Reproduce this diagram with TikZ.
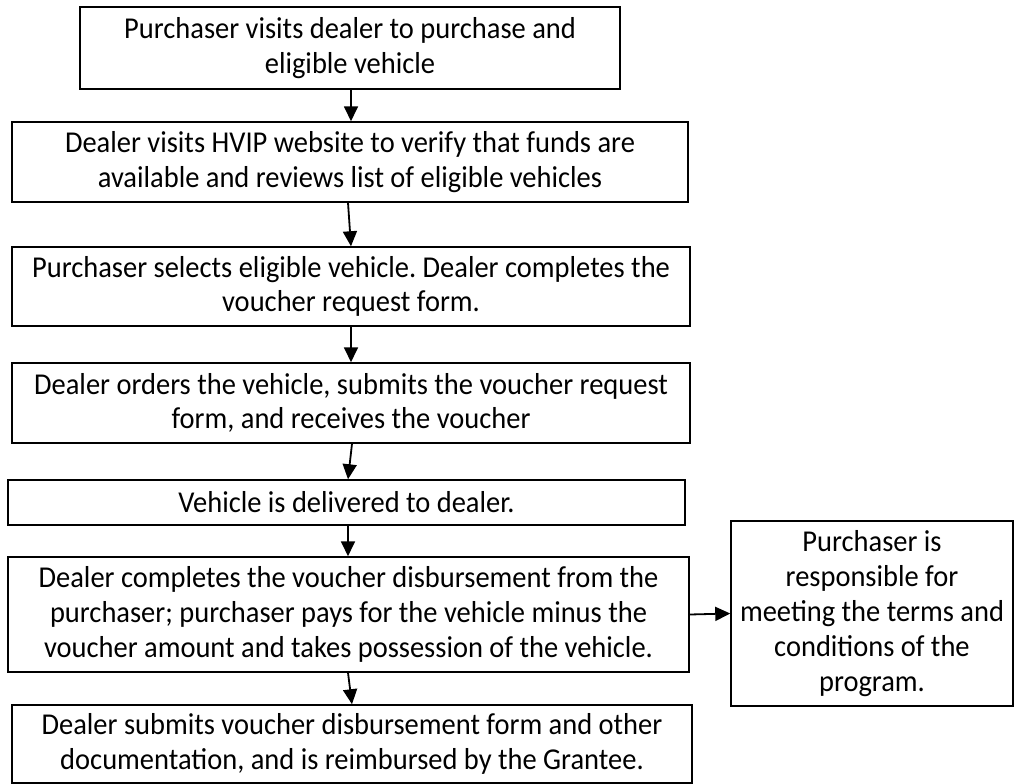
\documentclass[tikz,border=0pt]{standalone}
\usepackage{fontspec}
\setmainfont{Carlito}[FakeStretch=0.94]
\usetikzlibrary{arrows.meta}
\frenchspacing
\begin{document}
\begin{tikzpicture}[x=1pt,y=-1pt,
  box/.style={draw=black, line width=1.5pt, rectangle, align=center, inner sep=0pt,
    font=\fontsize{30.3}{34.8}\selectfont},
  arr/.style={line width=1.8pt, -{Triangle[length=15pt,width=14pt]}}]
\useasboundingbox (0,0) rectangle (1015,784);
\node[box, minimum width=540pt, minimum height=82pt] (b1) at (350,48)
  {Purchaser visits dealer to purchase and\\eligible vehicle};
\node[box, minimum width=676pt, minimum height=80pt] (b2) at (350,162)
  {Dealer visits HVIP website to verify that funds are\\available and reviews list of eligible vehicles};
\node[box, minimum width=678pt, minimum height=79pt] (b3) at (351,286.5)
  {Purchaser selects eligible vehicle. Dealer completes the\\voucher request form.};
\node[box, minimum width=678pt, minimum height=80pt] (b4) at (351,403)
  {Dealer orders the vehicle, submits the voucher request\\form, and receives the voucher};
\node[box, minimum width=677pt, minimum height=45pt] (b5) at (346.5,502.5)
  {Vehicle is delivered to dealer.};
\node[box, minimum width=681pt, minimum height=115pt] (b6) at (348.5,614.5)
  {Dealer completes the voucher disbursement from the\\purchaser; purchaser pays for the vehicle minus the\\voucher amount and takes possession of the vehicle.};
\node[box, minimum width=680pt, minimum height=78pt] (b7) at (352,744)
  {Dealer submits voucher disbursement form and other\\documentation, and is reimbursed by the Grantee.};
\node[box, minimum width=282pt, minimum height=185pt] (r) at (872,613.5)
  {Purchaser is\\responsible for\\meeting the terms and\\conditions of the\\program.};
\draw[arr] ([xshift=1pt]b1.south) -- ([xshift=1pt]b2.north);
\draw[arr] ([xshift=-2pt]b2.south) -- ([xshift=0pt]b3.north);
\draw[arr] ([xshift=0pt]b3.south) -- ([xshift=0pt]b4.north);
\draw[arr] ([xshift=1pt]b4.south) -- ([xshift=1.5pt]b5.north);
\draw[arr] ([xshift=1.5pt]b5.south) -- ([xshift=-0.5pt]b6.north);
\draw[arr] ([xshift=-0.5pt]b6.south) -- ([xshift=0pt]b7.north);
\draw[arr] (b6.east) -- (r.west);
\end{tikzpicture}
\end{document}
